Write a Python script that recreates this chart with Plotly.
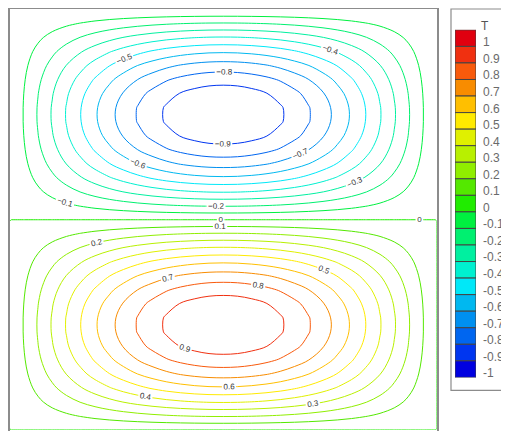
import numpy as np
import plotly.graph_objects as go

# ---- data ----
# horizontal profile of T across the box, sampled at x_pos (left -> right)
x_pos = [0.0, 0.004, 1/30, 2/30, 3/30, 4/30, 5/30, 6/30, 7/30, 8/30, 9/30, 10/30,
         11/30, 12/30, 13/30, 14/30, 15/30, 16/30, 17/30, 18/30, 19/30, 20/30,
         21/30, 22/30, 23/30, 24/30, 25/30, 26/30, 27/30, 28/30, 29/30, 0.996, 1.0]
x_profile = [0.0, 0.013, 0.105, 0.208, 0.309, 0.407, 0.5, 0.588, 0.669, 0.743, 0.809, 0.866,
             0.914, 0.951, 0.978, 0.995, 1.0, 0.995, 0.978, 0.951, 0.914, 0.866,
             0.809, 0.743, 0.669, 0.588, 0.5, 0.407, 0.309, 0.208, 0.105, 0.013, 0.0]
# vertical profile of T, sampled at y_pos (bottom -> top): positive cell below, negative above
y_pos = [0.0, 0.004, 1/30, 2/30, 3/30, 4/30, 5/30, 6/30, 7/30, 8/30, 9/30, 10/30,
         11/30, 12/30, 13/30, 14/30, 0.496, 0.5, 0.504, 16/30, 17/30, 18/30, 19/30,
         20/30, 21/30, 22/30, 23/30, 24/30, 25/30, 26/30, 27/30, 28/30, 29/30, 0.996, 1.0]
y_profile = [0.0, 0.025, 0.208, 0.407, 0.588, 0.743, 0.866, 0.951, 0.995, 0.995, 0.951,
             0.866, 0.743, 0.588, 0.407, 0.208, 0.025, 0.0, -0.025, -0.208, -0.407,
             -0.588, -0.743, -0.866, -0.951, -0.995, -0.995, -0.951, -0.866, -0.743,
             -0.588, -0.407, -0.208, -0.025, 0.0]

legend_levels = [1.0, 0.9, 0.8, 0.7, 0.6, 0.5, 0.4, 0.3, 0.2, 0.1, 0.0,
                 -0.1, -0.2, -0.3, -0.4, -0.5, -0.6, -0.7, -0.8, -0.9, -1.0]
legend_labels = ["1", "0.9", "0.8", "0.7", "0.6", "0.5", "0.4", "0.3", "0.2", "0.1", "0",
                 "-0.1", "-0.2", "-0.3", "-0.4", "-0.5", "-0.6", "-0.7", "-0.8", "-0.9", "-1"]

# ---- styles ----
legend_colors = ["#e0000f", "#f03010", "#f85a0c", "#f88c00", "#ffbf00", "#ffea00",
                 "#e0f000", "#b8f000", "#90ee00", "#54e800", "#20ec00", "#00f040",
                 "#00f070", "#00f0a0", "#00f0d0", "#00e8f8", "#00b8f0", "#0090f0",
                 "#0066f0", "#0036f0", "#0000e0"]
level_color = dict(zip(legend_levels, legend_colors))

z = np.outer(np.array(y_profile), np.array(x_profile))


def scale_for(start, end):
    lv = [l for l in legend_levels if start - 1e-9 <= l <= end + 1e-9]
    lv.sort()
    if len(lv) == 1:
        return [[0, level_color[lv[0]]], [1, level_color[lv[0]]]]
    return [[(l - start) / (end - start), level_color[l]] for l in lv]


# the page body adds an 8 px offset; the figure fills the rest of the window
OFF = 8
W, H = 509 - OFF, 434 - OFF


def px_x(p):  # screen pixel -> paper x
    return (p - OFF) / W


def px_y(p):  # screen pixel -> paper y
    return (434 - p) / H


LABEL_FONT = dict(family="Liberation Sans", size=8, color="#333333")

fig = go.Figure()
for (s, e, smooth) in [(-0.9, -0.1, 1.0), (0.1, 0.9, 1.0), (0.0, 0.0, 0.0)]:
    fig.add_trace(go.Contour(
        x=x_pos, y=y_pos, z=z,
        autocontour=False,
        contours=dict(start=s, end=e, size=0.1, coloring="lines",
                      showlabels=True, labelfont=LABEL_FONT),
        colorscale=scale_for(s, e),
        showscale=False,
        line=dict(width=1, smoothing=smooth),
        hoverinfo="skip",
    ))

# legend swatches drawn as bars on their own little axis
fig.add_trace(go.Bar(
    x=[0] * len(legend_levels),
    y=[0.1] * len(legend_levels),
    base=[lv - 0.05 for lv in legend_levels],
    width=1,
    marker=dict(color=legend_colors, line=dict(color="#444444", width=1)),
    xaxis="x2", yaxis="y2",
    hoverinfo="skip",
    showlegend=False,
))

top_px, bot_data_px = 9.5, 433.0
fig.update_layout(
    width=W, height=H,
    margin=dict(l=0, r=0, t=0, b=0, pad=0),
    paper_bgcolor="white", plot_bgcolor="white",
    showlegend=False,
    barmode="overlay",
    xaxis=dict(domain=[px_x(9.5), px_x(437)], range=[0, 1], side="top",
               showline=True, linecolor="#8c8c8c", linewidth=1.5, mirror=False,
               showgrid=False, zeroline=False, showticklabels=False, ticks=""),
    yaxis=dict(domain=[0, px_y(top_px)],
               range=[-(434 - bot_data_px) / (bot_data_px - top_px), 1],
               showline=True, linecolor="#8c8c8c", linewidth=1.5, mirror=True,
               showgrid=False, zeroline=False, showticklabels=False, ticks=""),
    xaxis2=dict(domain=[px_x(455), px_x(476)], range=[-0.5, 0.5], anchor="y2",
                showline=False, showgrid=False, zeroline=False,
                showticklabels=False, ticks=""),
    yaxis2=dict(domain=[px_y(380), px_y(30)], range=[-1.05, 1.05], anchor="x2",
                side="right", showline=False, showgrid=False, zeroline=False,
                tickmode="array", tickvals=legend_levels, ticktext=legend_labels,
                ticks="", ticklabelstandoff=6, ticklabelshift=4,
                tickfont=dict(family="Liberation Sans", size=12, color="#6a6a6a")),
    shapes=[dict(type="rect", xref="paper", yref="paper",
                 x0=px_x(451), x1=px_x(520), y0=px_y(393), y1=px_y(9),
                 line=dict(color="#8c8c8c", width=1.2), fillcolor="rgba(0,0,0,0)",
                 layer="above")],
    annotations=[dict(text="T", xref="paper", yref="paper",
                      x=px_x(491), y=px_y(17), showarrow=False,
                      font=dict(family="Liberation Sans", size=12, color="#555555"))],
)

fig.write_html("out.html")
